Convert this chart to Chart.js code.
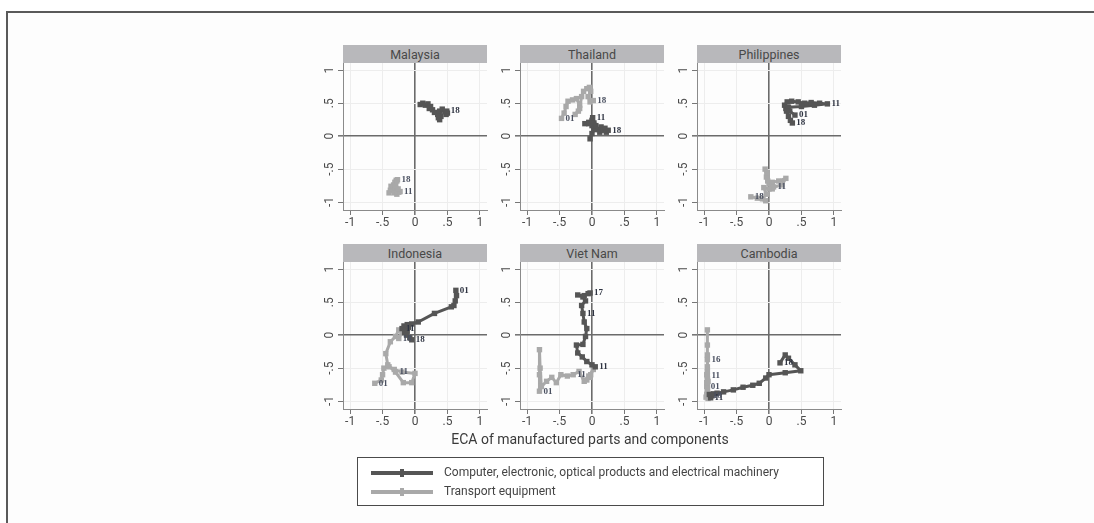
<!DOCTYPE html>
<html>
<head>
<meta charset="utf-8">
<script src="https://cdn.jsdelivr.net/npm/chart.js@4.4.0/dist/chart.umd.min.js"></script>
<style>
    body { margin: 0; width: 1094px; height: 523px; background: #fff; position: relative; overflow: hidden; font-family: Roboto, "Noto Sans", sans-serif; }
    .frame { position: absolute; left: 6px; top: 11px; right: 0; bottom: 0; border-top: 2px solid #5a5a5a; border-left: 2px solid #5a5a5a; background: #fdfdfd; }
    .panel { position: absolute; }
    .strip { position: absolute; height: 18px; background: #b8b8bb; color: #484848; font-size: 12.5px; text-align: center; line-height: 19px; }
    .xtitle { position: absolute; left: 390px; width: 400px; top: 431px; text-align: center; font-size: 14px; color: #3a3a3a; }
    .legend { position: absolute; left: 357px; top: 457px; width: 465px; height: 47px; border: 1px solid #4a4a4a; background: #fff; }
    .legend-row { position: absolute; left: 0; height: 16px; font-size: 12px; color: #444; }
    .legend-line { position: absolute; left: 13px; width: 62px; height: 4px; top: 6px; }
    .legend-mark { position: absolute; left: 29px; top: -2px; width: 4px; height: 8px; }
    .legend-text { position: absolute; left: 86px; top: 0; white-space: nowrap; }
</style>
</head>
<body>
<div class="frame"></div>
<div id="panels"></div>
<div class="xtitle">ECA of manufactured parts and components</div>
<div class="legend" id="legend"></div>

<script>
// series names
const seriesNames = ['Computer, electronic, optical products and electrical machinery', 'Transport equipment'];
const tickValues = [-1, -0.5, 0, 0.5, 1];
const tickLabels = ['-1', '-.5', '0', '.5', '1'];

// yearly positions 2001..2018, [x, y]
const malaysiaComputer = [[0.08,0.48],[0.12,0.50],[0.16,0.47],[0.20,0.49],[0.24,0.45],[0.22,0.42],[0.27,0.40],[0.30,0.36],[0.35,0.33],[0.36,0.28],[0.38,0.25],[0.40,0.30],[0.38,0.38],[0.42,0.41],[0.46,0.37],[0.48,0.33],[0.50,0.35],[0.49,0.38]];
const malaysiaTransport = [[-0.40,-0.86],[-0.38,-0.82],[-0.35,-0.80],[-0.37,-0.76],[-0.33,-0.74],[-0.30,-0.78],[-0.28,-0.82],[-0.32,-0.86],[-0.28,-0.88],[-0.25,-0.85],[-0.23,-0.84],[-0.26,-0.80],[-0.30,-0.74],[-0.31,-0.70],[-0.29,-0.67],[-0.30,-0.70],[-0.28,-0.68],[-0.27,-0.66]];
const thailandComputer = [[-0.03,-0.04],[0.00,0.04],[0.03,0.10],[0.00,0.16],[-0.05,0.19],[-0.11,0.19],[-0.05,0.21],[0.00,0.24],[0.03,0.20],[0.01,0.28],[0.06,0.16],[0.10,0.10],[0.14,0.14],[0.12,0.06],[0.17,0.09],[0.20,0.12],[0.22,0.06],[0.25,0.09]];
const thailandTransport = [[-0.47,0.27],[-0.43,0.35],[-0.40,0.45],[-0.37,0.53],[-0.30,0.55],[-0.24,0.57],[-0.19,0.47],[-0.21,0.38],[-0.26,0.33],[-0.19,0.42],[-0.16,0.60],[-0.13,0.68],[-0.08,0.72],[-0.04,0.74],[-0.02,0.68],[-0.06,0.60],[-0.03,0.52],[0.02,0.54]];
const philippinesComputer = [[0.40,0.32],[0.32,0.38],[0.26,0.42],[0.24,0.47],[0.28,0.52],[0.35,0.53],[0.45,0.52],[0.55,0.50],[0.65,0.51],[0.78,0.50],[0.90,0.49],[0.70,0.47],[0.50,0.45],[0.30,0.44],[0.27,0.38],[0.30,0.30],[0.33,0.24],[0.36,0.20]];
const philippinesTransport = [[0.05,-0.80],[0.00,-0.72],[-0.04,-0.62],[-0.06,-0.50],[-0.03,-0.55],[-0.02,-0.68],[0.05,-0.70],[0.15,-0.68],[0.26,-0.64],[0.20,-0.74],[0.07,-0.77],[0.00,-0.80],[-0.08,-0.78],[-0.04,-0.88],[-0.10,-0.95],[-0.05,-0.98],[-0.18,-0.94],[-0.28,-0.92]];
const indonesiaComputer = [[0.63,0.68],[0.64,0.60],[0.62,0.52],[0.60,0.45],[0.56,0.43],[0.30,0.33],[0.05,0.20],[-0.05,0.17],[-0.12,0.16],[-0.17,0.14],[-0.20,0.10],[-0.15,0.08],[-0.10,0.12],[-0.12,0.06],[-0.16,0.04],[-0.13,0.00],[-0.08,-0.04],[-0.05,-0.07]];
const indonesiaTransport = [[-0.62,-0.73],[-0.52,-0.68],[-0.50,-0.60],[-0.48,-0.50],[-0.40,-0.48],[-0.32,-0.52],[-0.20,-0.56],[0.00,-0.58],[-0.05,-0.72],[-0.18,-0.72],[-0.30,-0.56],[-0.42,-0.45],[-0.45,-0.28],[-0.38,-0.10],[-0.30,-0.02],[-0.25,0.08],[-0.20,0.05],[-0.25,-0.05]];
const vietnamComputer = [[0.05,-0.48],[0.00,-0.45],[-0.08,-0.40],[-0.15,-0.33],[-0.22,-0.27],[-0.24,-0.15],[-0.14,-0.14],[-0.10,-0.02],[-0.08,0.10],[-0.12,0.20],[-0.14,0.33],[-0.16,0.45],[-0.10,0.52],[-0.14,0.58],[-0.22,0.61],[-0.12,0.60],[-0.06,0.63],[-0.03,0.64]];
const vietnamTransport = [[-0.81,-0.85],[-0.81,-0.60],[-0.81,-0.22],[-0.80,-0.50],[-0.78,-0.78],[-0.70,-0.70],[-0.62,-0.64],[-0.55,-0.72],[-0.48,-0.60],[-0.38,-0.62],[-0.29,-0.60],[-0.20,-0.55],[-0.12,-0.70],[-0.05,-0.62],[0.02,-0.52],[-0.02,-0.60],[-0.08,-0.68],[-0.04,-0.64]];
const cambodiaComputer = [[-0.90,-0.95],[-0.88,-0.92],[-0.92,-0.90],[-0.86,-0.89],[-0.80,-0.88],[-0.70,-0.86],[-0.55,-0.83],[-0.40,-0.79],[-0.25,-0.76],[-0.15,-0.73],[-0.05,-0.65],[0.00,-0.60],[0.25,-0.57],[0.49,-0.54],[0.40,-0.45],[0.30,-0.35],[0.25,-0.30],[0.17,-0.42]];
const cambodiaTransport = [[-0.96,-0.78],[-0.95,-0.88],[-0.97,-0.94],[-0.94,-0.96],[-0.96,-0.90],[-0.95,-0.82],[-0.96,-0.72],[-0.95,-0.66],[-0.96,-0.60],[-0.95,-0.55],[-0.95,-0.62],[-0.95,-0.48],[-0.95,-0.30],[-0.95,-0.15],[-0.95,0.08],[-0.95,-0.37],[-0.94,-0.70],[-0.93,-0.92]];

// year labels: [index, text]
const malaysiaComputerLabels = [[17, '18']];
const malaysiaTransportLabels = [[17, '18'], [10, '11']];
const thailandComputerLabels = [[9, '11'], [17, '18']];
const thailandTransportLabels = [[0, '01'], [17, '18']];
const philippinesComputerLabels = [[0, '01'], [10, '11'], [17, '18']];
const philippinesTransportLabels = [[10, '11'], [17, '18']];
const indonesiaComputerLabels = [[0, '01'], [10, '11'], [17, '18']];
const indonesiaTransportLabels = [[0, '01'], [10, '11'], [17, '18']];
const vietnamComputerLabels = [[0, '11'], [10, '11'], [17, '17']];
const vietnamTransportLabels = [[0, '01'], [10, '11']];
const cambodiaComputerLabels = [[0, '11'], [17, '18']];
const cambodiaTransportLabels = [[15, '16'], [10, '11'], [0, '01'], [17, '18']];

const darkColor = '#555555';
const lightColor = '#a9a9a9';

const panels = [
    { name: 'Malaysia', left: 343, top: 63, comp: malaysiaComputer, trans: malaysiaTransport, compLabels: malaysiaComputerLabels, transLabels: malaysiaTransportLabels },
    { name: 'Thailand', left: 520, top: 63, comp: thailandComputer, trans: thailandTransport, compLabels: thailandComputerLabels, transLabels: thailandTransportLabels },
    { name: 'Philippines', left: 697, top: 63, comp: philippinesComputer, trans: philippinesTransport, compLabels: philippinesComputerLabels, transLabels: philippinesTransportLabels },
    { name: 'Indonesia', left: 343, top: 262, comp: indonesiaComputer, trans: indonesiaTransport, compLabels: indonesiaComputerLabels, transLabels: indonesiaTransportLabels },
    { name: 'Viet Nam', left: 520, top: 262, comp: vietnamComputer, trans: vietnamTransport, compLabels: vietnamComputerLabels, transLabels: vietnamTransportLabels },
    { name: 'Cambodia', left: 697, top: 262, comp: cambodiaComputer, trans: cambodiaTransport, compLabels: cambodiaComputerLabels, transLabels: cambodiaTransportLabels }
];

const plotW = 144, plotH = 147, axisW = 32, axisH = 30, padTop = 2, padRight = 4;

// draws the small year numbers next to points
const yearLabels = {
    id: 'yearLabels',
    afterDatasetsDraw(chart) {
        const ctx = chart.ctx;
        ctx.save();
        ctx.font = 'bold 9px "Liberation Serif", "DejaVu Serif", serif';
        ctx.textBaseline = 'middle';
        ctx.textAlign = 'left';
        chart.data.datasets.forEach((ds, di) => {
            const meta = chart.getDatasetMeta(di);
            (ds.yearLabels || []).forEach(([i, text]) => {
                const pt = meta.data[i];
                if (!pt) return;
                ctx.fillStyle = di === 0 ? '#2f3442' : '#4a5060';
                ctx.fillText(text, pt.x + 4, pt.y);
            });
        });
        ctx.restore();
    }
};

function makeAxis(isX) {
    return {
        type: 'linear',
        min: isX ? -1.11 : -1.12,
        max: isX ? 1.11 : 1.11,
        afterBuildTicks: scale => { scale.ticks = tickValues.map(v => ({ value: v })); },
        afterFit: scale => {
            // keep the plot area fixed: labels never sit at the very edge here
            scale.paddingTop = 0;
            scale.paddingBottom = 0;
            scale.paddingLeft = 0;
            scale.paddingRight = 0;
            if (isX) scale.height = axisH; else scale.width = axisW;
        },
        ticks: {
            color: '#4a4a4a',
            font: { family: 'Roboto', size: 12 },
            padding: isX ? 8 : 1,
            minRotation: isX ? 0 : 90,
            maxRotation: isX ? 0 : 90,
            crossAlign: 'center',
            callback: value => tickLabels[tickValues.indexOf(value)] ?? ''
        },
        grid: {
            color: c => (c.tick && c.tick.value === 0) ? '#6b6b6b' : '#ededed',
            lineWidth: c => (c.tick && c.tick.value === 0) ? 1.6 : 1,
            tickColor: '#777',
            tickLength: 5
        },
        border: { display: true, color: '#8a8a8a', width: 1 }
    };
}

function makePanel(p) {
    const holder = document.getElementById('panels');

    const strip = document.createElement('div');
    strip.className = 'strip';
    strip.style.left = p.left + 'px';
    strip.style.top = (p.top - 18) + 'px';
    strip.style.width = plotW + 'px';
    strip.textContent = p.name;
    holder.appendChild(strip);

    const canvas = document.createElement('canvas');
    canvas.className = 'panel';
    const w = axisW + plotW + padRight, h = padTop + plotH + axisH;
    canvas.width = w;
    canvas.height = h;
    canvas.style.width = w + 'px';
    canvas.style.height = h + 'px';
    canvas.style.left = (p.left - axisW) + 'px';
    canvas.style.top = (p.top - padTop) + 'px';
    holder.appendChild(canvas);

    const toPoints = arr => arr.map(([x, y]) => ({ x, y }));
    const lineStyle = {
        showLine: true,
        borderWidth: 3,
        borderJoinStyle: 'round',
        borderCapStyle: 'round',
        pointRadius: 1.7,
        pointStyle: 'rect'
    };

    new Chart(canvas.getContext('2d'), {
        type: 'scatter',
        data: {
            datasets: [
                Object.assign({
                    label: seriesNames[0],
                    data: toPoints(p.comp),
                    yearLabels: p.compLabels,
                    borderColor: darkColor,
                    backgroundColor: darkColor,
                    order: 1
                }, lineStyle),
                Object.assign({
                    label: seriesNames[1],
                    data: toPoints(p.trans),
                    yearLabels: p.transLabels,
                    borderColor: lightColor,
                    backgroundColor: lightColor,
                    order: 2
                }, lineStyle)
            ]
        },
        options: {
            responsive: false,
            animation: false,
            layout: { autoPadding: false, padding: { top: padTop, right: padRight, left: 0, bottom: 0 } },
            plugins: {
                legend: { display: false },
                tooltip: { enabled: false }
            },
            scales: {
                x: makeAxis(true),
                y: makeAxis(false)
            }
        },
        plugins: [yearLabels]
    });
}

panels.forEach(makePanel);

// legend
const legend = document.getElementById('legend');
[darkColor, lightColor].forEach((color, i) => {
    const row = document.createElement('div');
    row.className = 'legend-row';
    row.style.top = (7 + i * 19) + 'px';
    row.innerHTML = '<div class="legend-line" style="background:' + color + '"><div class="legend-mark" style="background:' + color + '"></div></div>' +
        '<div class="legend-text">' + seriesNames[i] + '</div>';
    legend.appendChild(row);
});
</script>
</body>
</html>
